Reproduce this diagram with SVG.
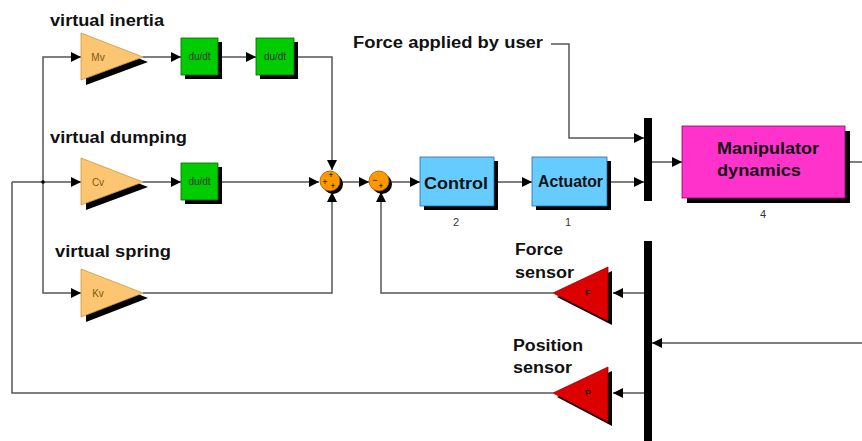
<svg xmlns="http://www.w3.org/2000/svg" width="862" height="441" viewBox="0 0 862 441">
<defs>
<marker id="ah" viewBox="0 0 10 10" refX="10" refY="5" markerWidth="10" markerHeight="10" markerUnits="userSpaceOnUse" orient="auto">
<path d="M0,0 L10,5 L0,10 z" fill="#000"/>
</marker>
</defs>
<style>
.ln{fill:none;stroke:#555;stroke-width:1.5}
.lbl{font-family:"Liberation Sans",Arial,sans-serif;font-weight:bold;font-size:16px;fill:#111}
.gain{fill:#fbc572;stroke:#c99a40;stroke-width:0.8}
.sens{fill:#dd0000;stroke:#990000;stroke-width:0.8}
.sh{fill:#000}
.tri{font-family:"Liberation Sans",Arial,sans-serif;font-size:10px;fill:#7a5a10;text-anchor:middle}
.dd{fill:#00cc00;stroke:#006600;stroke-width:0.8}
.ddt{font-family:"Liberation Sans",Arial,sans-serif;font-size:10px;fill:#333;text-anchor:middle}
.blue{fill:#66ccff;stroke:#2a6a99;stroke-width:0.8}
.big{font-family:"Liberation Sans",Arial,sans-serif;font-weight:bold;font-size:17px;fill:#111}
.num{font-family:"Liberation Sans",Arial,sans-serif;font-size:11px;fill:#333;text-anchor:middle}
.sum{fill:#ff9900;stroke:#aa5500;stroke-width:0.8}
.sg{font-family:"Liberation Sans",Arial,sans-serif;font-size:9px;fill:#000;text-anchor:middle}
.bar{fill:#000}
</style>
<rect width="862" height="441" fill="#fff"/>

<g id="connectors">
<polyline class="ln" points="12,182 12,393 553,393"/>
<polyline class="ln" points="12,182 81,182" marker-end="url(#ah)"/>
<polyline class="ln" points="43,182 43,57 81,57" marker-end="url(#ah)"/>
<polyline class="ln" points="43,182 43,293 81,293" marker-end="url(#ah)"/>
<circle cx="43" cy="182" r="1.8" fill="#000"/>
<polyline class="ln" points="143,57 181,57" marker-end="url(#ah)"/>
<polyline class="ln" points="218,57 256,57" marker-end="url(#ah)"/>
<polyline class="ln" points="294,57 332,57 332,170" marker-end="url(#ah)"/>
<polyline class="ln" points="143,182 181,182" marker-end="url(#ah)"/>
<polyline class="ln" points="218,182 319,182" marker-end="url(#ah)"/>
<polyline class="ln" points="143,293 332,293 332,192" marker-end="url(#ah)"/>
<polyline class="ln" points="342,182 369,182" marker-end="url(#ah)"/>
<polyline class="ln" points="390,182 420,182" marker-end="url(#ah)"/>
<polyline class="ln" points="553,293 381,293 381,192" marker-end="url(#ah)"/>
<polyline class="ln" points="494,182 532,182" marker-end="url(#ah)"/>
<polyline class="ln" points="607,182 644,182" marker-end="url(#ah)"/>
<polyline class="ln" points="551,44 569,44 569,138 644,138" marker-end="url(#ah)"/>
<polyline class="ln" points="652,162 682,162" marker-end="url(#ah)"/>
<polyline class="ln" points="850,162 862,162"/>
<polyline class="ln" points="862,343 652,343" marker-end="url(#ah)"/>
<polyline class="ln" points="644,293 613,293" marker-end="url(#ah)"/>
<polyline class="ln" points="644,393 613,393" marker-end="url(#ah)"/>
</g>

<text class="lbl" x="50" y="26" textLength="114" lengthAdjust="spacingAndGlyphs">virtual inertia</text>
<text class="lbl" x="50" y="143" textLength="137" lengthAdjust="spacingAndGlyphs">virtual dumping</text>
<text class="lbl" x="55" y="257" textLength="116" lengthAdjust="spacingAndGlyphs">virtual spring</text>
<text class="lbl" x="353" y="48" textLength="190" lengthAdjust="spacingAndGlyphs">Force applied by user</text>
<text class="lbl" x="515" y="255" textLength="48" lengthAdjust="spacingAndGlyphs">Force</text>
<text class="lbl" x="515" y="278" textLength="59" lengthAdjust="spacingAndGlyphs">sensor</text>
<text class="lbl" x="513" y="351" textLength="70" lengthAdjust="spacingAndGlyphs">Position</text>
<text class="lbl" x="513" y="373" textLength="59" lengthAdjust="spacingAndGlyphs">sensor</text>

<g id="gain-mv">
<polygon class="sh" points="86,38 148,62 86,85"/>
<polygon class="gain" points="81,33 143,57 81,80"/>
<text class="tri" x="98" y="61">Mv</text>
</g>
<g id="gain-cv">
<polygon class="sh" points="86,163 148,187 86,210"/>
<polygon class="gain" points="81,158 143,182 81,205"/>
<text class="tri" x="98" y="186">Cv</text>
</g>
<g id="gain-kv">
<polygon class="sh" points="86,274 148,298 86,322"/>
<polygon class="gain" points="81,269 143,293 81,317"/>
<text class="tri" x="98" y="297">Kv</text>
</g>

<g id="deriv1">
<rect class="sh" x="185" y="42" width="37" height="37"/>
<rect class="dd" x="181" y="38" width="37" height="37"/>
<text class="ddt" x="199.5" y="60">du/dt</text>
</g>
<g id="deriv2">
<rect class="sh" x="260" y="42" width="38" height="37"/>
<rect class="dd" x="256" y="38" width="38" height="37"/>
<text class="ddt" x="275" y="60">du/dt</text>
</g>
<g id="deriv3">
<rect class="sh" x="185" y="167" width="37" height="37"/>
<rect class="dd" x="181" y="163" width="37" height="37"/>
<text class="ddt" x="199.5" y="185">du/dt</text>
</g>

<g id="sum1">
<circle class="sh" cx="333" cy="184" r="10"/>
<circle class="sum" cx="330" cy="181" r="10"/>
<text class="sg" x="331" y="178">+</text>
<text class="sg" x="325" y="185">+</text>
<text class="sg" x="333" y="189">+</text>
</g>
<g id="sum2">
<circle class="sh" cx="382" cy="184" r="10"/>
<circle class="sum" cx="379" cy="181" r="10"/>
<text class="sg" x="375" y="183">−</text>
<text class="sg" x="381" y="189">+</text>
</g>

<g id="control">
<rect class="sh" x="424" y="161" width="74" height="49"/>
<rect class="blue" x="420" y="157" width="74" height="49"/>
<text class="big" x="424" y="189" textLength="64" lengthAdjust="spacingAndGlyphs">Control</text>
<text class="num" x="456" y="226">2</text>
</g>
<g id="actuator">
<rect class="sh" x="536" y="161" width="75" height="49"/>
<rect class="blue" x="532" y="157" width="75" height="49"/>
<text class="big" x="538" y="187" textLength="65" lengthAdjust="spacingAndGlyphs">Actuator</text>
<text class="num" x="568" y="226">1</text>
</g>

<g id="mux">
<rect class="bar" x="644" y="118" width="8" height="83"/>
</g>

<g id="manipulator">
<rect class="sh" x="687" y="131" width="163" height="72"/>
<rect x="682" y="126" width="163" height="72" fill="#ff33cc" stroke="#880066" stroke-width="0.8"/>
<text class="big" x="717" y="154" font-size="16" textLength="102" lengthAdjust="spacingAndGlyphs">Manipulator</text>
<text class="big" x="717" y="176" font-size="16" textLength="84" lengthAdjust="spacingAndGlyphs">dynamics</text>
<text class="num" x="763" y="218">4</text>
</g>

<g id="demux">
<rect class="bar" x="644" y="241" width="8" height="200"/>
</g>

<g id="force-sensor">
<polygon class="sh" points="557,297 612,271 612,325"/>
<polygon class="sens" points="553,293 608,267 608,321"/>
<text class="sg" x="588" y="296" fill="#600">F</text>
</g>
<g id="position-sensor">
<polygon class="sh" points="557,397 612,371 612,426"/>
<polygon class="sens" points="553,393 608,367 608,422"/>
<text class="sg" x="588" y="396" fill="#600">P</text>
</g>
</svg>
